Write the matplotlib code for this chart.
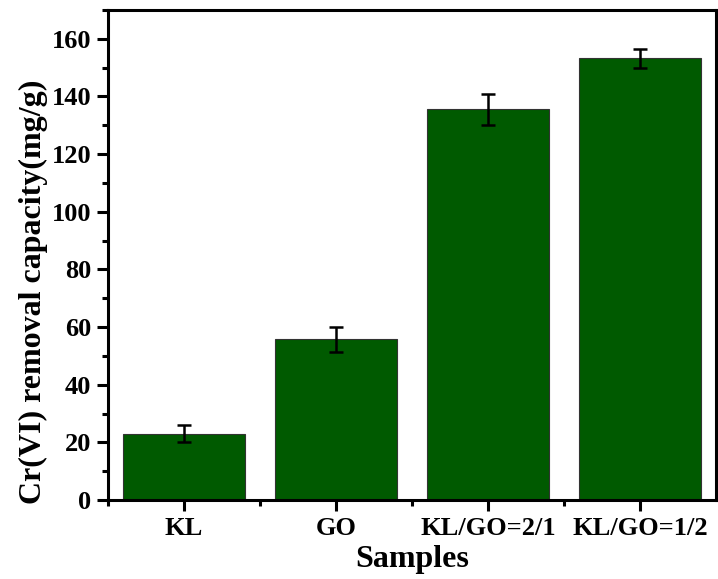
import matplotlib.pyplot as plt
from matplotlib.ticker import MultipleLocator, FixedLocator

# --- Data ---
samples = ["KL", "GO", "KL/GO=2/1", "KL/GO=1/2"]
capacity = [23.0, 55.7, 135.5, 153.3]
errors = [3.0, 4.5, 5.5, 3.3]

plt.rcParams['font.family'] = ['Liberation Serif', 'DejaVu Serif']
plt.rcParams['font.weight'] = 'bold'

fig = plt.figure(figsize=(7.18, 5.79), dpi=100)
ax = fig.add_axes([0.1504, 0.1364, 0.8466, 0.8463])

x = range(len(samples))
ax.bar(x, capacity, width=0.8, color="#005a00", edgecolor="#333333", linewidth=0.8,
       yerr=errors, capsize=5,
       error_kw=dict(ecolor="black", elinewidth=1.8, capthick=1.8))

ax.set_xlim(-0.5, 3.5)
ax.set_ylim(0, 170)
ax.set_xticks(list(x))
ax.set_xticklabels(samples)
ax.xaxis.set_minor_locator(FixedLocator([-0.5, 0.5, 1.5, 2.5]))
ax.yaxis.set_major_locator(MultipleLocator(20))
ax.yaxis.set_minor_locator(MultipleLocator(10))

for s in ax.spines.values():
    s.set_linewidth(2.2)
ax.tick_params(which='major', direction='out', length=8, width=2.2, labelsize=19, pad=4)
ax.tick_params(which='minor', direction='out', length=4, width=2.2)
ax.tick_params(top=False, right=False, which='both')
for lab in ax.get_xticklabels() + ax.get_yticklabels():
    lab.set_fontweight('bold')

ax.set_xlabel("Samples", fontsize=23, fontweight='bold', labelpad=4)
ax.set_ylabel("Cr(VI) removal capacity(mg/g)", fontsize=23, fontweight='bold')
ax.yaxis.set_label_coords(-0.098, 0.424)

fig.savefig("out.png", dpi=100)
plt.close(fig)
